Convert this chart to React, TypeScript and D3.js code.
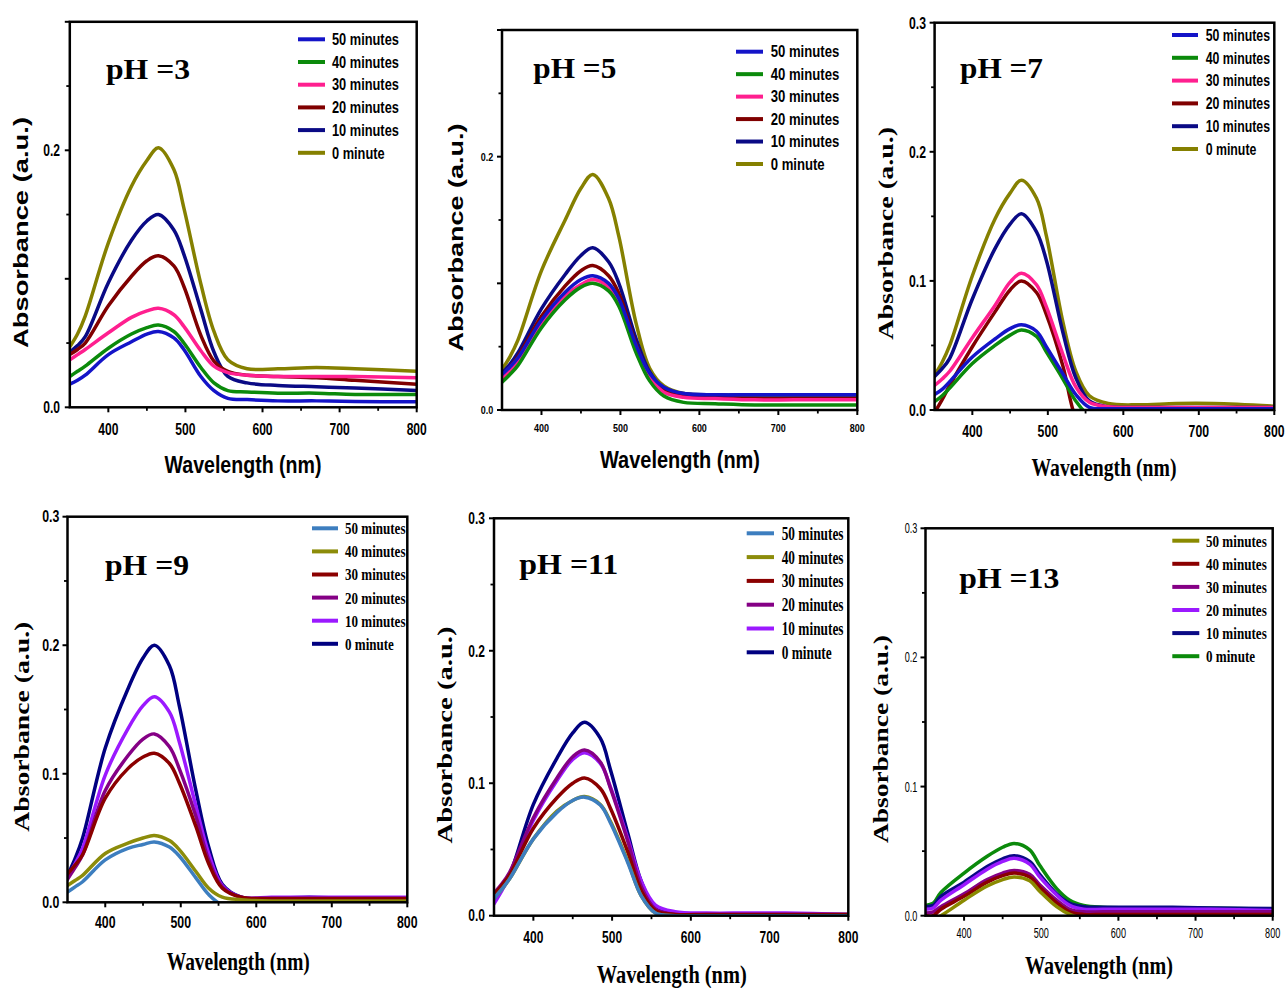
import React, { useEffect, useRef } from "react";
import * as d3 from "d3";

// ---------- data ----------
const wavelengths = [350, 360, 370, 400, 430, 450, 465, 485, 498, 520, 537, 555, 580, 620, 670, 720, 800];
const legendLabels = ["50 minutes", "40 minutes", "30 minutes", "20 minutes", "10 minutes", "0 minute"];
const xTickValues = [400, 500, 600, 700, 800];

// pH 3
const pH3_50 = [0.018, 0.021, 0.025, 0.041, 0.051, 0.057, 0.059, 0.054, 0.045, 0.024, 0.013, 0.007, 0.006, 0.005, 0.005, 0.0045, 0.0044];
const pH3_40 = [0.024, 0.028, 0.032, 0.046, 0.057, 0.062, 0.064, 0.059, 0.050, 0.031, 0.019, 0.013, 0.012, 0.011, 0.011, 0.010, 0.010];
const pH3_30 = [0.037, 0.041, 0.045, 0.058, 0.070, 0.075, 0.077, 0.072, 0.063, 0.044, 0.032, 0.027, 0.025, 0.024, 0.024, 0.024, 0.023];
const pH3_20 = [0.041, 0.045, 0.050, 0.079, 0.102, 0.114, 0.118, 0.110, 0.094, 0.056, 0.036, 0.028, 0.025, 0.024, 0.023, 0.021, 0.018];
const pH3_10 = [0.043, 0.048, 0.055, 0.097, 0.130, 0.145, 0.150, 0.138, 0.119, 0.076, 0.043, 0.024, 0.019, 0.017, 0.016, 0.015, 0.013];
const pH3_0 = [0.047, 0.057, 0.071, 0.128, 0.172, 0.192, 0.202, 0.185, 0.155, 0.096, 0.059, 0.037, 0.030, 0.030, 0.031, 0.030, 0.028];

// pH 5
const pH5_50 = [0.028, 0.034, 0.041, 0.071, 0.093, 0.103, 0.106, 0.100, 0.088, 0.051, 0.029, 0.018, 0.013, 0.012, 0.012, 0.012, 0.012];
const pH5_40 = [0.022, 0.028, 0.035, 0.065, 0.087, 0.097, 0.100, 0.094, 0.082, 0.045, 0.023, 0.011, 0.006, 0.005, 0.004, 0.004, 0.004];
const pH5_30 = [0.025, 0.031, 0.039, 0.068, 0.090, 0.099, 0.103, 0.097, 0.085, 0.048, 0.026, 0.014, 0.010, 0.009, 0.008, 0.008, 0.008];
const pH5_20 = [0.028, 0.034, 0.042, 0.074, 0.098, 0.110, 0.114, 0.106, 0.092, 0.052, 0.028, 0.016, 0.011, 0.010, 0.009, 0.009, 0.009];
const pH5_10 = [0.029, 0.036, 0.045, 0.080, 0.107, 0.122, 0.128, 0.117, 0.100, 0.056, 0.030, 0.017, 0.013, 0.012, 0.012, 0.012, 0.012];
const pH5_0 = [0.032, 0.042, 0.055, 0.110, 0.150, 0.175, 0.186, 0.167, 0.137, 0.068, 0.033, 0.019, 0.013, 0.011, 0.010, 0.010, 0.010];

// pH 7
const pH7_50 = [0.012, 0.016, 0.022, 0.041, 0.055, 0.063, 0.066, 0.061, 0.049, 0.028, 0.012, 0.002, 0.001, 0.001, 0.001, 0.001, 0.001];
const pH7_40 = [0.0065, 0.011, 0.017, 0.036, 0.050, 0.058, 0.062, 0.057, 0.045, 0.024, 0.007, -0.004, -0.004, -0.004, -0.004, -0.004, -0.004];
const pH7_30 = [0.019, 0.024, 0.030, 0.056, 0.081, 0.099, 0.106, 0.097, 0.080, 0.043, 0.018, 0.006, 0.0025, 0.002, 0.002, 0.002, 0.002];
const pH7_20 = [-0.002, 0.008, 0.019, 0.049, 0.076, 0.093, 0.100, 0.091, 0.074, 0.034, -0.006, -0.02, -0.02, -0.02, -0.02, -0.02, -0.02];
const pH7_10 = [0.026, 0.032, 0.040, 0.086, 0.125, 0.144, 0.152, 0.138, 0.116, 0.060, 0.025, 0.007, 0.0025, 0.002, 0.002, 0.002, 0.002];
const pH7_0 = [0.027, 0.037, 0.050, 0.104, 0.148, 0.168, 0.178, 0.164, 0.135, 0.068, 0.030, 0.011, 0.005, 0.004, 0.005, 0.005, 0.003];

// pH 9
const pH9_50 = [0.008, 0.012, 0.016, 0.033, 0.042, 0.045, 0.047, 0.043, 0.036, 0.019, 0.006, -0.002, -0.003, -0.003, -0.003, -0.003, -0.003];
const pH9_40 = [0.013, 0.017, 0.021, 0.038, 0.046, 0.050, 0.052, 0.048, 0.041, 0.024, 0.011, 0.004, 0.002, 0.001, 0.001, 0.001, 0.001];
const pH9_30 = [0.022, 0.029, 0.037, 0.081, 0.104, 0.113, 0.116, 0.108, 0.093, 0.059, 0.030, 0.011, 0.004, 0.003, 0.003, 0.003, 0.003];
const pH9_20 = [0.018, 0.027, 0.037, 0.087, 0.114, 0.127, 0.131, 0.121, 0.104, 0.067, 0.033, 0.012, 0.004, 0.003, 0.003, 0.003, 0.003];
const pH9_10 = [0.019, 0.030, 0.042, 0.099, 0.135, 0.153, 0.160, 0.148, 0.125, 0.075, 0.038, 0.013, 0.004, 0.004, 0.004, 0.004, 0.004];
const pH9_0 = [0.021, 0.034, 0.050, 0.120, 0.166, 0.190, 0.200, 0.184, 0.153, 0.087, 0.043, 0.014, 0.004, 0.003, 0.004, 0.003, 0.003];

// pH 11
const pH11_50 = [0.013, 0.020, 0.028, 0.058, 0.078, 0.087, 0.0895, 0.0835, 0.070, 0.040, 0.015, 0.002, 0.0, 0.0, 0.0, 0.0, 0.0];
const pH11_40 = [0.013, 0.020, 0.028, 0.058, 0.079, 0.087, 0.090, 0.084, 0.071, 0.041, 0.015, 0.002, 0.0, 0.0, 0.0, 0.0, 0.0];
const pH11_30 = [0.016, 0.023, 0.031, 0.066, 0.089, 0.100, 0.104, 0.096, 0.081, 0.048, 0.019, 0.004, 0.001, 0.001, 0.001, 0.001, 0.001];
const pH11_20 = [0.017, 0.024, 0.033, 0.074, 0.104, 0.120, 0.125, 0.116, 0.096, 0.056, 0.022, 0.005, 0.001, 0.001, 0.001, 0.001, 0.001];
const pH11_10 = [0.009, 0.019, 0.030, 0.072, 0.102, 0.118, 0.123, 0.115, 0.097, 0.058, 0.026, 0.008, 0.003, 0.002, 0.002, 0.002, 0.001];
const pH11_0 = [0.013, 0.021, 0.031, 0.084, 0.119, 0.138, 0.146, 0.134, 0.110, 0.062, 0.026, 0.006, 0.001, 0.001, 0.001, 0.001, 0.001];

// pH 13
const pH13_50 = [-0.005, -0.003, 0.0, 0.012, 0.023, 0.028, 0.030, 0.027, 0.019, 0.007, 0.001, -0.002, -0.002, -0.002, -0.002, -0.002, -0.002];
const pH13_40 = [0.0, 0.0, 0.005, 0.015, 0.026, 0.031, 0.033, 0.030, 0.022, 0.010, 0.003, 0.001, 0.001, 0.001, 0.001, 0.001, 0.001];
const pH13_30 = [0.002, 0.003, 0.007, 0.017, 0.028, 0.033, 0.035, 0.032, 0.024, 0.012, 0.005, 0.003, 0.003, 0.003, 0.003, 0.003, 0.003];
const pH13_20 = [0.005, 0.006, 0.012, 0.024, 0.036, 0.042, 0.0445, 0.040, 0.030, 0.016, 0.008, 0.005, 0.005, 0.005, 0.005, 0.005, 0.004];
const pH13_10 = [0.007, 0.008, 0.015, 0.026, 0.038, 0.044, 0.0465, 0.042, 0.032, 0.017, 0.0096, 0.007, 0.0065, 0.0065, 0.0065, 0.006, 0.0055];
const pH13_0 = [0.008, 0.0096, 0.018, 0.033, 0.046, 0.053, 0.056, 0.051, 0.039, 0.021, 0.012, 0.008, 0.0065, 0.006, 0.006, 0.006, 0.005];

// ---------- styles / layout ----------
const SANS = "'Liberation Sans', Arial, Helvetica, sans-serif";
const SERIF = "'Liberation Serif', 'Times New Roman', Times, serif";

const colorsA = ["#1414c8", "#0b8a0b", "#ff1f8f", "#800000", "#0a0a85", "#858000"];
const colorsB = ["#3d7ebf", "#8c8c0a", "#8b0000", "#850085", "#9b19ff", "#000080"];
const colorsC = ["#8a8a00", "#8b0000", "#850085", "#9b19ff", "#0a0a85", "#0b8a0b"];

type Txt = { x: number; y: number; w?: number; sx?: number; font: string; size: number; weight?: string };

type Panel = {
  title: string;
  series: number[][];
  colors: string[];
  box: { l: number; r: number; t: number; b: number };
  yLabels: number[];
  tick: { font: string; weight: string; size: number; sx: number; xBase: number; yRight: number };
  legend: { x1: number; x2: number; tx: number; y: number; dy: number; font: string; size: number; sx: number };
  xTitle: Txt;
  yTitle: Txt;
  pH: Txt;
};

const panels: Panel[] = [
  {
    title: "pH =3",
    series: [pH3_50, pH3_40, pH3_30, pH3_20, pH3_10, pH3_0],
    colors: colorsA,
    box: { l: 69.8, r: 416.7, t: 21.8, b: 407.3 },
    yLabels: [0, 0.2],
    tick: { font: SANS, weight: "bold", size: 17, sx: 0.71, xBase: 435, yRight: 60 },
    legend: { x1: 298, x2: 325, tx: 332, y: 39.3, dy: 22.7, font: SANS, size: 16, sx: 0.8 },
    xTitle: { x: 243, y: 473, w: 157, font: SANS, size: 24 },
    yTitle: { x: 28, y: 232.5, w: 231, font: SANS, size: 21 },
    pH: { x: 106, y: 79, w: 84, font: SERIF, size: 29 },
  },
  {
    title: "pH =5",
    series: [pH5_50, pH5_40, pH5_30, pH5_20, pH5_10, pH5_0],
    colors: colorsA,
    box: { l: 502, r: 857.3, t: 30, b: 410 },
    yLabels: [0, 0.2],
    tick: { font: SANS, weight: "bold", size: 11.5, sx: 0.78, xBase: 431.7, yRight: 493.3 },
    legend: { x1: 736, x2: 763, tx: 770.7, y: 51.7, dy: 22.46, font: SANS, size: 16, sx: 0.82 },
    xTitle: { x: 680, y: 468.3, w: 160, font: SANS, size: 24 },
    yTitle: { x: 463.3, y: 237.5, w: 228, font: SANS, size: 21 },
    pH: { x: 533.3, y: 78.3, w: 83, font: SERIF, size: 29 },
  },
  {
    title: "pH =7",
    series: [pH7_50, pH7_40, pH7_30, pH7_20, pH7_10, pH7_0],
    colors: colorsA,
    box: { l: 934.6, r: 1274.3, t: 22.7, b: 410 },
    yLabels: [0, 0.1, 0.2, 0.3],
    tick: { font: SANS, weight: "bold", size: 17, sx: 0.72, xBase: 436.7, yRight: 926 },
    legend: { x1: 1172, x2: 1198, tx: 1205.7, y: 35, dy: 22.8, font: SANS, size: 16, sx: 0.77 },
    xTitle: { x: 1104, y: 476, w: 145, font: SERIF, size: 25 },
    yTitle: { x: 893.3, y: 233.3, w: 213, font: SERIF, size: 22 },
    pH: { x: 960, y: 78.3, w: 83, font: SERIF, size: 29 },
  },
  {
    title: "pH =9",
    series: [pH9_50, pH9_40, pH9_30, pH9_20, pH9_10, pH9_0],
    colors: colorsB,
    box: { l: 67.5, r: 407.3, t: 516.7, b: 902.3 },
    yLabels: [0, 0.1, 0.2, 0.3],
    tick: { font: SANS, weight: "bold", size: 16, sx: 0.77, xBase: 928.3, yRight: 59.3 },
    legend: { x1: 312, x2: 338, tx: 345, y: 528.3, dy: 23.1, font: SERIF, size: 16.5, sx: 0.79 },
    xTitle: { x: 238.3, y: 970, w: 143, font: SERIF, size: 25 },
    yTitle: { x: 28.7, y: 726.7, w: 210, font: SERIF, size: 22 },
    pH: { x: 105, y: 575, w: 84, font: SERIF, size: 29 },
  },
  {
    title: "pH =11",
    series: [pH11_50, pH11_40, pH11_30, pH11_20, pH11_10, pH11_0],
    colors: colorsB,
    box: { l: 494, r: 848.3, t: 518.3, b: 915.7 },
    yLabels: [0, 0.1, 0.2, 0.3],
    tick: { font: SANS, weight: "bold", size: 16, sx: 0.75, xBase: 943.3, yRight: 485 },
    legend: { x1: 746.7, x2: 774, tx: 781.7, y: 533.3, dy: 23.8, font: SERIF, size: 18, sx: 0.74 },
    xTitle: { x: 671.7, y: 983, w: 150, font: SERIF, size: 25 },
    yTitle: { x: 451.7, y: 735, w: 217, font: SERIF, size: 22 },
    pH: { x: 519.3, y: 574, w: 99, font: SERIF, size: 29 },
  },
  {
    title: "pH =13",
    series: [pH13_50, pH13_40, pH13_30, pH13_20, pH13_10, pH13_0],
    colors: colorsC,
    box: { l: 925.5, r: 1272.7, t: 528.3, b: 915.7 },
    yLabels: [0, 0.1, 0.2, 0.3],
    tick: { font: SANS, weight: "normal", size: 14, sx: 0.65, xBase: 938.3, yRight: 917.3 },
    legend: { x1: 1172.3, x2: 1199.3, tx: 1206, y: 540.7, dy: 23.1, font: SERIF, size: 17, sx: 0.77 },
    xTitle: { x: 1099, y: 974, w: 148, font: SERIF, size: 25 },
    yTitle: { x: 888.3, y: 739, w: 208, font: SERIF, size: 22 },
    pH: { x: 959.3, y: 587.7, w: 100, font: SERIF, size: 29 },
  },
];

function squeeze(sel: any, sx: number) {
  sel.each(function (this: SVGTextElement) {
    const w = this.getComputedTextLength();
    d3.select(this).attr("textLength", w * sx).attr("lengthAdjust", "spacingAndGlyphs");
  });
}

function fixWidth(sel: any, w?: number) {
  if (w) sel.attr("textLength", w).attr("lengthAdjust", "spacingAndGlyphs");
}

export default function App() {
  const ref = useRef<SVGSVGElement | null>(null);

  useEffect(() => {
    const svg = d3.select(ref.current);
    svg.selectAll("*").remove();

    panels.forEach((p, pi) => {
      const x = d3.scaleLinear().domain([350, 800]).range([p.box.l, p.box.r]);
      const y = d3.scaleLinear().domain([0, 0.3]).range([p.box.b, p.box.t]);
      const g = svg.append("g");
      const clipId = `clip-${pi}`;
      svg
        .append("clipPath")
        .attr("id", clipId)
        .append("rect")
        .attr("x", p.box.l)
        .attr("y", p.box.t)
        .attr("width", p.box.r - p.box.l)
        .attr("height", p.box.b - p.box.t);

      // curves: 0 minute drawn first, 50 minutes last
      const line = d3
        .line<number>()
        .x((_, i) => x(wavelengths[i]))
        .y((d) => y(d))
        .curve(d3.curveCatmullRom.alpha(0.5));
      const order = [5, 4, 3, 2, 1, 0];
      const cg = g.append("g").attr("clip-path", `url(#${clipId})`);
      order.forEach((si) => {
        cg.append("path")
          .attr("d", line(p.series[si]))
          .attr("fill", "none")
          .attr("stroke", p.colors[si])
          .attr("stroke-width", 3.5)
          .attr("stroke-linejoin", "round")
          .attr("stroke-linecap", "round");
      });

      // frame
      g.append("rect")
        .attr("x", p.box.l)
        .attr("y", p.box.t)
        .attr("width", p.box.r - p.box.l)
        .attr("height", p.box.b - p.box.t)
        .attr("fill", "none")
        .attr("stroke", "#000")
        .attr("stroke-width", 2.5);

      // x ticks
      const xMinor = [450, 550, 650, 750];
      xTickValues.forEach((v) => {
        g.append("line").attr("x1", x(v)).attr("x2", x(v)).attr("y1", p.box.b).attr("y2", p.box.b + 5).attr("stroke", "#000").attr("stroke-width", 2);
      });
      xMinor.forEach((v) => {
        g.append("line").attr("x1", x(v)).attr("x2", x(v)).attr("y1", p.box.b).attr("y2", p.box.b + 3.5).attr("stroke", "#000").attr("stroke-width", 1.8);
      });
      // y ticks
      [0, 0.1, 0.2, 0.3].forEach((v) => {
        g.append("line").attr("x1", p.box.l - 5).attr("x2", p.box.l).attr("y1", y(v)).attr("y2", y(v)).attr("stroke", "#000").attr("stroke-width", 2);
      });
      [0.05, 0.15, 0.25].forEach((v) => {
        g.append("line").attr("x1", p.box.l - 3.5).attr("x2", p.box.l).attr("y1", y(v)).attr("y2", y(v)).attr("stroke", "#000").attr("stroke-width", 1.8);
      });

      // tick labels
      const xl = g
        .selectAll(null)
        .data(xTickValues)
        .enter()
        .append("text")
        .attr("x", (d) => x(d))
        .attr("y", p.tick.xBase)
        .attr("text-anchor", "middle")
        .attr("font-family", p.tick.font)
        .attr("font-weight", p.tick.weight)
        .attr("font-size", p.tick.size)
        .text((d) => String(d));
      squeeze(xl, p.tick.sx);
      const yl = g
        .selectAll(null)
        .data(p.yLabels)
        .enter()
        .append("text")
        .attr("x", p.tick.yRight)
        .attr("y", (d) => y(d) + p.tick.size * 0.36)
        .attr("text-anchor", "end")
        .attr("font-family", p.tick.font)
        .attr("font-weight", p.tick.weight)
        .attr("font-size", p.tick.size)
        .text((d) => d3.format(".1f")(d));
      squeeze(yl, p.tick.sx);

      // legend
      legendLabels.forEach((lab, i) => {
        const yy = p.legend.y + i * p.legend.dy;
        g.append("line")
          .attr("x1", p.legend.x1)
          .attr("x2", p.legend.x2)
          .attr("y1", yy)
          .attr("y2", yy)
          .attr("stroke", p.colors[i])
          .attr("stroke-width", 4);
        const t = g
          .append("text")
          .attr("x", p.legend.tx)
          .attr("y", yy + p.legend.size * 0.36)
          .attr("font-family", p.legend.font)
          .attr("font-weight", "bold")
          .attr("font-size", p.legend.size)
          .text(lab);
        squeeze(t, p.legend.sx);
      });

      // axis titles
      const xt = g
        .append("text")
        .attr("x", p.xTitle.x)
        .attr("y", p.xTitle.y)
        .attr("text-anchor", "middle")
        .attr("font-family", p.xTitle.font)
        .attr("font-weight", "bold")
        .attr("font-size", p.xTitle.size)
        .text("Wavelength (nm)");
      fixWidth(xt, p.xTitle.w);
      const yt = g
        .append("text")
        .attr("transform", `translate(${p.yTitle.x},${p.yTitle.y}) rotate(-90)`)
        .attr("text-anchor", "middle")
        .attr("font-family", p.yTitle.font)
        .attr("font-weight", "bold")
        .attr("font-size", p.yTitle.size)
        .text("Absorbance (a.u.)");
      fixWidth(yt, p.yTitle.w);

      // pH label
      const ph = g
        .append("text")
        .attr("x", p.pH.x)
        .attr("y", p.pH.y)
        .attr("font-family", p.pH.font)
        .attr("font-weight", "bold")
        .attr("font-size", p.pH.size)
        .text(p.title);
      fixWidth(ph, p.pH.w);
    });
  }, []);

  return (
    <svg
      ref={ref}
      width={1285}
      height={988}
      style={{ position: "absolute", left: 0, top: 0, display: "block", background: "#fff" }}
    />
  );
}
